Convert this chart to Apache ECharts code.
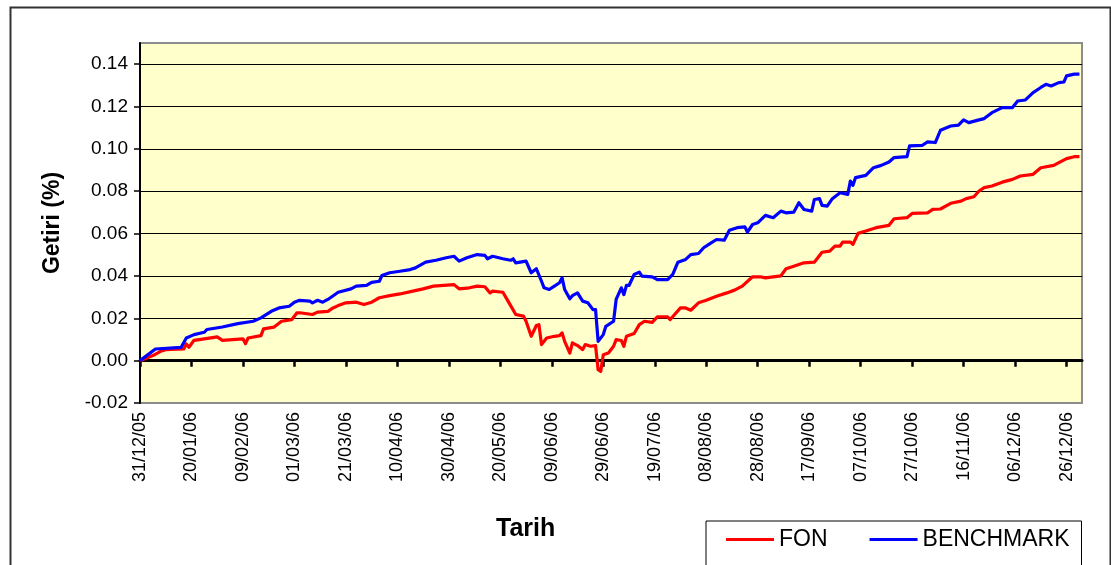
<!DOCTYPE html>
<html>
<head>
<meta charset="utf-8">
<script src="https://cdn.jsdelivr.net/npm/echarts@6/dist/echarts.min.js"></script>
<style>
html,body{margin:0;padding:0;background:#fff;}
#chart{width:1111px;height:565px;}
</style>
</head>
<body>
<div id="chart"></div>
<script>
// Day offsets are days after 31/12/05
const tickLabels = ['31/12/05','20/01/06','09/02/06','01/03/06','21/03/06','10/04/06','30/04/06','20/05/06','09/06/06','29/06/06','19/07/06','08/08/06','28/08/06','17/09/06','07/10/06','27/10/06','16/11/06','06/12/06','26/12/06'];
const yTicks = [-0.02, 0.00, 0.02, 0.04, 0.06, 0.08, 0.10, 0.12, 0.14];

const fonDays = [0,5,8,10,17,18,19,21,25,30,32,40,41,42,47,48,52,55,59,61,62,67,69,73,75,77,80,84,87,90,93,97,101,106,110,114,118,122,124,128,131,134,136,137,141,143,146,149,150,152,154,155,156,158,161,163,164,165,167,168,170,172,173,175,177,178,179,180,182,184,185,187,188,189,192,194,196,199,201,205,206,210,212,214,217,220,224,228,231,234,238,241,243,249,251,254,258,262,265,268,270,272,273,276,277,279,282,286,291,293,298,300,306,308,311,315,319,321,324,326,328,331,335,339,342,347,350,355,357,360,363,365];
const fonValues = [0,0.0024,0.0044,0.0052,0.0055,0.0079,0.0063,0.0096,0.0103,0.0112,0.0096,0.0103,0.0080,0.0107,0.0118,0.0150,0.0158,0.0186,0.0194,0.0226,0.0226,0.0218,0.0229,0.0233,0.0249,0.0260,0.0273,0.0276,0.0265,0.0276,0.0297,0.0307,0.0315,0.0328,0.0339,0.0352,0.0355,0.0359,0.0339,0.0344,0.0352,0.0349,0.0320,0.0328,0.0323,0.0281,0.0218,0.0210,0.0186,0.0115,0.0166,0.0170,0.0076,0.0107,0.0115,0.0118,0.0131,0.0091,0.0036,0.0084,0.0071,0.0052,0.0076,0.0068,0.0071,-0.0043,-0.0051,0.0028,0.0036,0.0068,0.0099,0.0095,0.0068,0.0115,0.0128,0.0170,0.0186,0.0181,0.0207,0.0207,0.0194,0.0249,0.0249,0.0238,0.0273,0.0285,0.0304,0.0320,0.0333,0.0352,0.0396,0.0396,0.0391,0.0400,0.0434,0.0446,0.0462,0.0465,0.0512,0.0517,0.0541,0.0541,0.0560,0.0560,0.0549,0.0601,0.0612,0.0628,0.0639,0.0670,0.0675,0.0695,0.0698,0.0714,0.0716,0.0743,0.0753,0.0765,0.0774,0.0801,0.0817,0.0825,0.0843,0.0856,0.0872,0.0880,0.0911,0.0922,0.0935,0.0954,0.0963,0.0963];

const benchDays = [0,6,16,18,21,25,26,32,38,44,47,51,54,58,60,62,66,67,69,71,73,77,82,84,88,90,93,94,97,101,105,107,111,115,119,122,124,127,131,134,135,137,141,144,145,146,150,152,154,156,157,159,161,163,164,165,167,168,170,172,174,176,177,178,180,181,184,185,187,188,189,190,192,194,195,199,201,205,207,209,212,214,217,219,221,224,227,229,232,235,236,238,240,243,246,249,251,254,256,258,261,262,264,265,267,269,272,275,276,277,278,282,285,288,291,293,298,299,304,306,309,311,315,318,320,322,326,328,331,335,339,341,344,347,350,352,354,357,359,360,363,365];
const benchValues = [0,0.0055,0.0063,0.0107,0.0123,0.0134,0.0147,0.0159,0.0175,0.0186,0.0202,0.0233,0.0249,0.0257,0.0276,0.0285,0.0281,0.0273,0.0285,0.0276,0.0289,0.0323,0.0339,0.0352,0.0355,0.0370,0.0375,0.0402,0.0415,0.0422,0.0430,0.0438,0.0465,0.0474,0.0486,0.0493,0.0470,0.0486,0.0501,0.0497,0.0481,0.0493,0.0481,0.0474,0.0481,0.0462,0.0470,0.0415,0.0434,0.0375,0.0344,0.0336,0.0352,0.0368,0.0391,0.0336,0.0292,0.0307,0.0320,0.0281,0.0273,0.0241,0.0241,0.0091,0.0123,0.0162,0.0186,0.0289,0.0344,0.0312,0.0355,0.0355,0.0407,0.0418,0.0399,0.0396,0.0383,0.0383,0.0407,0.0465,0.0478,0.0501,0.0506,0.0533,0.0549,0.0572,0.0569,0.0616,0.0628,0.0632,0.0607,0.0643,0.0651,0.0686,0.0675,0.0706,0.0698,0.0701,0.0746,0.0714,0.0706,0.0761,0.0765,0.0733,0.0730,0.0765,0.0793,0.0785,0.0848,0.0828,0.0864,0.0875,0.0911,0.0922,0.0938,0.0959,0.0963,0.1014,0.1017,0.1033,0.1030,0.1088,0.1108,0.1112,0.1137,0.1124,0.1137,0.1143,0.1171,0.1195,0.1195,0.1226,0.1231,0.1266,0.1290,0.1305,0.1297,0.1313,0.1316,0.1345,0.1353,0.1353];

const seriesNames = ['FON', 'BENCHMARK'];

const zip = (xs, ys) => xs.map((x, i) => [x, ys[i]]);
const tickDays = tickLabels.map((_, i) => i * 20);
const FONT = '"Liberation Sans", Arial, sans-serif';

const chart = echarts.init(document.getElementById('chart'), null, {renderer: 'canvas'});
chart.setOption({
  animation: false,
  backgroundColor: '#ffffff',
  graphic: [{
    type: 'rect', left: 8, top: 5, z: -10,
    shape: {width: 1100, height: 600},
    style: {fill: 'none', stroke: '#333333', lineWidth: 2}
  }],
  title: {
    text: 'Tarih', left: 496, top: 517, padding: 0,
    textStyle: {fontFamily: FONT, fontSize: 25, fontWeight: 'bold', color: '#000'}
  },
  legend: {
    data: seriesNames,
    left: 706, top: 521,
    padding: [7, 12, 40, 20],
    itemGap: 42, itemWidth: 48, itemHeight: 3,
    icon: 'rect',
    borderColor: '#000', borderWidth: 1,
    textStyle: {fontFamily: FONT, fontSize: 23, color: '#000'}
  },
  grid: {
    left: 140, right: 29, top: 43, bottom: 162,
    containLabel: false, outerBoundsMode: 'none',
    show: true, backgroundColor: '#FFFFCC', borderColor: '#8c8c8c', borderWidth: 2
  },
  xAxis: [{
    type: 'value', min: 0, max: 366, interval: 20,
    axisLine: {show: true, onZero: true, lineStyle: {color: '#000', width: 3}},
    axisTick: {show: true, inside: false, length: 6, customValues: tickDays, lineStyle: {color: '#000', width: 2.5}},
    axisLabel: {show: false},
    splitLine: {show: false}
  }, {
    type: 'value', min: 0, max: 366, interval: 20, position: 'bottom',
    axisLine: {show: false, onZero: false},
    axisTick: {show: false},
    splitLine: {show: false},
    axisLabel: {
      show: true, rotate: 90, margin: 9, customValues: tickDays,
      hideOverlap: false,
      fontFamily: FONT, fontSize: 18, color: '#000',
      formatter: v => { const i = Math.round(v / 20); return (Math.abs(v - i * 20) < 1e-6 && tickLabels[i]) ? tickLabels[i] : ''; }
    }
  }],
  yAxis: {
    type: 'value', min: -0.02, max: 0.15, interval: 0.02,
    name: 'Getiri (%)', nameLocation: 'middle', nameGap: 76, nameRotate: 90,
    nameTextStyle: {fontFamily: FONT, fontSize: 23, fontWeight: 'bold', color: '#000'},
    axisLine: {show: true, lineStyle: {color: '#000', width: 2}},
    axisTick: {show: true, inside: false, length: 6, customValues: yTicks, lineStyle: {color: '#000', width: 1.5}},
    axisLabel: {
      customValues: yTicks, margin: 12,
      fontFamily: FONT, fontSize: 19, color: '#000',
      formatter: v => v.toFixed(2)
    },
    splitLine: {show: true, showMinLine: false, lineStyle: {color: '#000', width: 1}}
  },
  series: [{
    name: seriesNames[0], type: 'line', xAxisIndex: 0,
    data: zip(fonDays, fonValues),
    showSymbol: false, symbol: 'none',
    color: '#FF0000',
    lineStyle: {color: '#FF0000', width: 3.2, join: 'round'}
  }, {
    name: seriesNames[1], type: 'line', xAxisIndex: 0,
    data: zip(benchDays, benchValues),
    showSymbol: false, symbol: 'none',
    color: '#0000FF',
    lineStyle: {color: '#0000FF', width: 3.2, join: 'round'}
  }]
});
</script>
</body>
</html>
